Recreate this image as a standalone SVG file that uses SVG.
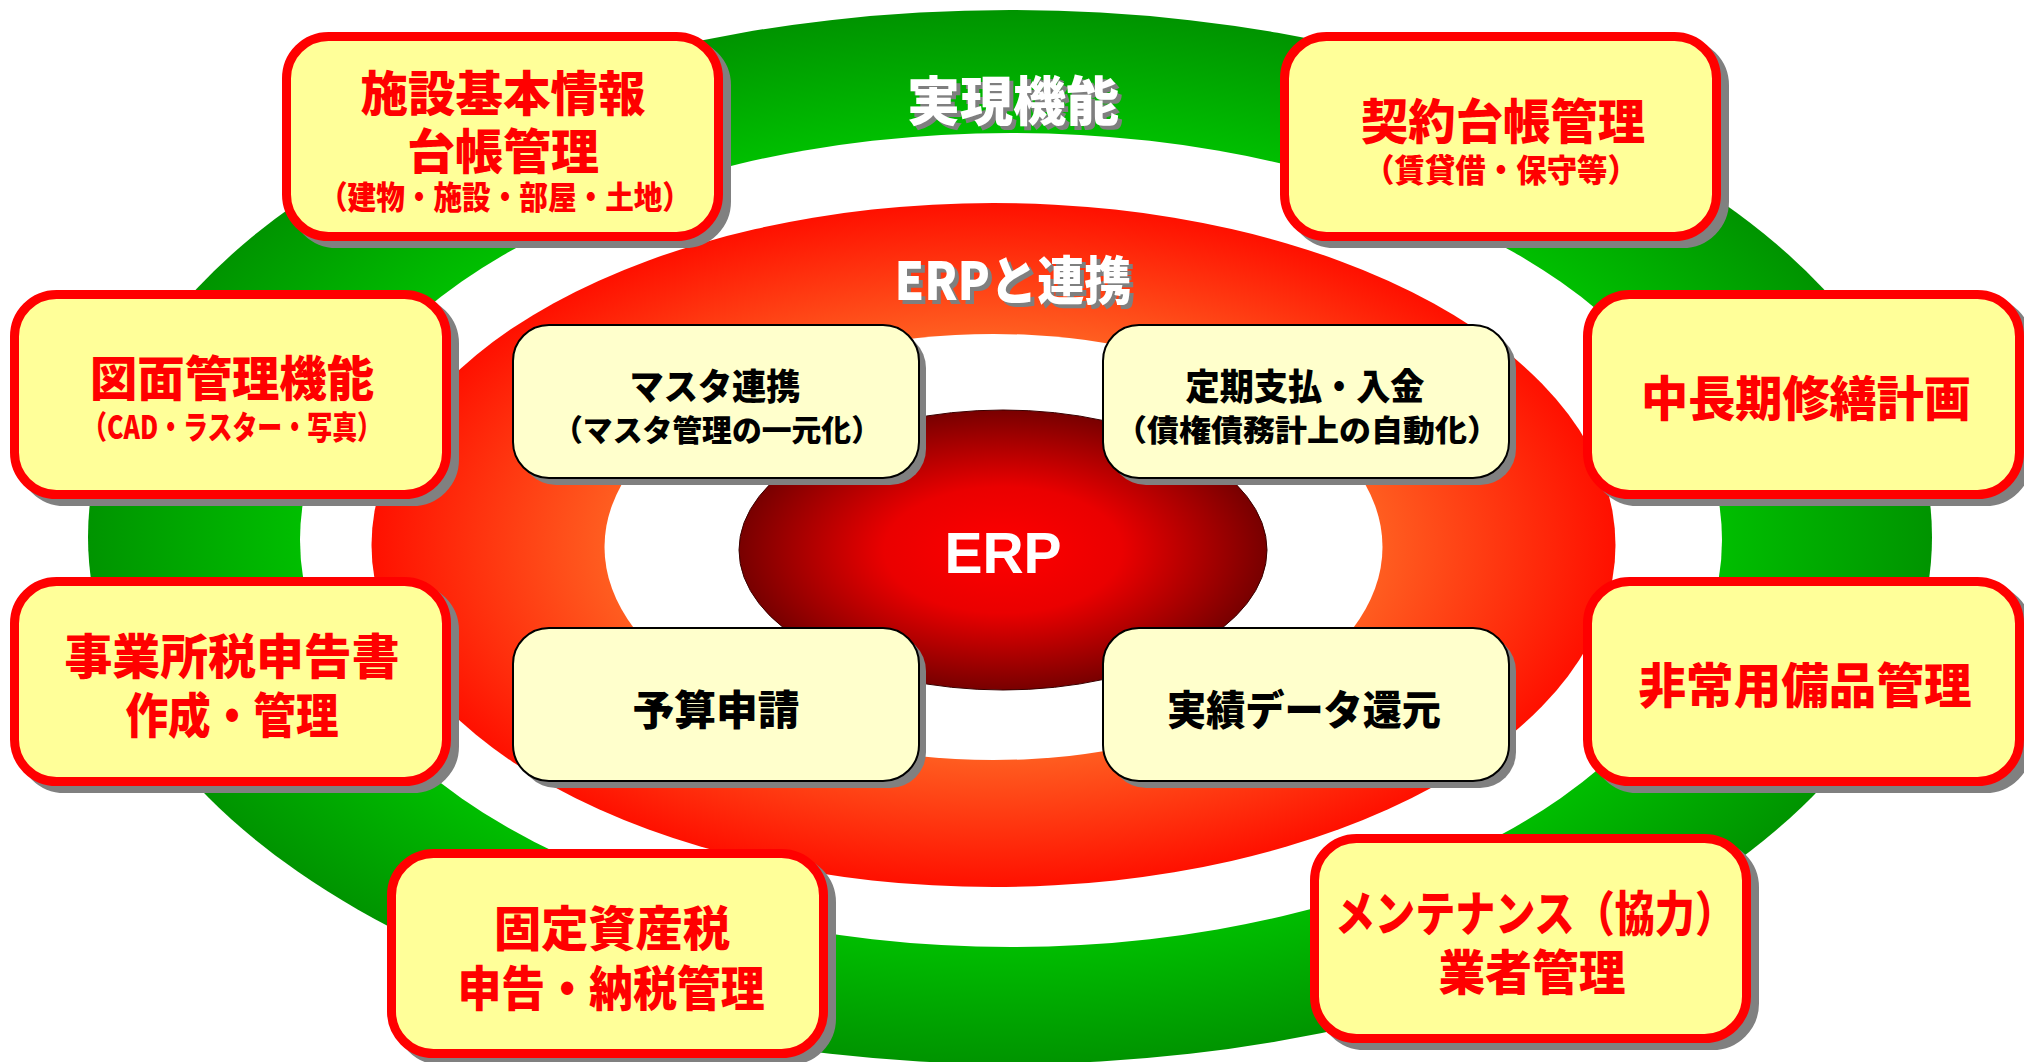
<svg xmlns="http://www.w3.org/2000/svg" width="2024" height="1062" viewBox="0 0 2024 1062">
<defs>
<radialGradient id="gGreen" cx="0.5" cy="0.5" r="0.5">
<stop offset="0.76" stop-color="#00C000"/>
<stop offset="1" stop-color="#009400"/>
</radialGradient>
<radialGradient id="gRed" cx="0.5" cy="0.5" r="0.5">
<stop offset="0.6" stop-color="#FF6222"/>
<stop offset="1" stop-color="#FF1000"/>
</radialGradient>
<radialGradient id="gCore" cx="0.5" cy="0.5" r="0.5">
<stop offset="0" stop-color="#FF0000"/>
<stop offset="0.45" stop-color="#EA0000"/>
<stop offset="1" stop-color="#780000"/>
</radialGradient>
<style>
.ob{fill:#FFFF99;stroke:#FF0000;stroke-width:9}
.os{fill:#808080;stroke:#808080;stroke-width:9}
.ib{fill:#FFFFCC;stroke:#000000;stroke-width:2}
.is{fill:#808080}
.jp{font-family:"Noto Sans CJK JP","Noto Sans CJK SC",sans-serif;font-weight:900;text-anchor:middle}
.rl{fill:#FF0000;font-size:48px}
.rs{fill:#FF0000;font-size:32px}
.bl{fill:#000000;font-size:36px}
.bs{fill:#000000;font-size:30px}
.bm{fill:#000000;font-size:41px}
.tw{fill:#FFFFFF}
.tg{fill:#7F7F7F}
</style>
</defs>
<rect width="2024" height="1062" fill="#FFFFFF"/>
<g id="rings">
<ellipse cx="1010" cy="537" rx="922" ry="527" fill="url(#gGreen)"/>
<ellipse cx="1011" cy="540" rx="711" ry="407" fill="#FFFFFF"/>
<ellipse cx="993.5" cy="545" rx="622" ry="342" fill="url(#gRed)"/>
<ellipse cx="993.5" cy="547" rx="389" ry="213" fill="#FFFFFF"/>
<ellipse cx="1003" cy="550" rx="264" ry="140" fill="url(#gCore)" stroke="#3A0000" stroke-width="1"/>
</g>
<g id="titles">
<text class="jp tg" x="1017" y="125" font-size="53">実現機能</text>
<text class="jp tw" x="1013" y="121" font-size="53">実現機能</text>
<text class="jp tg" x="1017" y="304" font-size="52" textLength="237" lengthAdjust="spacingAndGlyphs">ERPと連携</text>
<text class="jp tw" x="1013" y="300" font-size="52" textLength="237" lengthAdjust="spacingAndGlyphs">ERPと連携</text>
<text x="1003" y="573" font-family="Liberation Sans, Arial, sans-serif" font-weight="bold" font-size="57" fill="#FFFFFF" text-anchor="middle">ERP</text>
</g>
<g id="connectors"></g>
<g id="node-shisetsu">
<rect class="os" x="294.5" y="43.5" width="432" height="200" rx="42"/>
<rect class="ob" x="286.5" y="36.5" width="432" height="200" rx="42"/>
<text class="jp rl" x="503" y="111" textLength="285" lengthAdjust="spacingAndGlyphs">施設基本情報</text>
<text class="jp rl" x="503" y="169">台帳管理</text>
<text class="jp rs" x="505" y="209" textLength="372" lengthAdjust="spacingAndGlyphs">（建物・施設・部屋・土地）</text>
</g>
<g id="node-keiyaku">
<rect class="os" x="1292.5" y="43.5" width="432" height="200" rx="42"/>
<rect class="ob" x="1284.5" y="36.5" width="432" height="200" rx="42"/>
<text class="jp rl" x="1503" y="139" textLength="284" lengthAdjust="spacingAndGlyphs">契約台帳管理</text>
<text class="jp rs" x="1501" y="182" textLength="274" lengthAdjust="spacingAndGlyphs">（賃貸借・保守等）</text>
</g>
<g id="node-zumen">
<rect class="os" x="22.5" y="301.5" width="432" height="200" rx="42"/>
<rect class="ob" x="14.5" y="294.5" width="432" height="200" rx="42"/>
<text class="jp rl" x="232" y="396" textLength="284" lengthAdjust="spacingAndGlyphs">図面管理機能</text>
<text class="jp rs" x="232" y="439" textLength="300" lengthAdjust="spacingAndGlyphs">（CAD・ラスター・写真）</text>
</g>
<g id="node-jigyosho">
<rect class="os" x="22.5" y="588.5" width="432" height="200" rx="42"/>
<rect class="ob" x="14.5" y="581.5" width="432" height="200" rx="42"/>
<text class="jp rl" x="232" y="674" textLength="335" lengthAdjust="spacingAndGlyphs">事業所税申告書</text>
<text class="jp rl" x="232" y="733" textLength="213" lengthAdjust="spacingAndGlyphs">作成・管理</text>
</g>
<g id="node-kotei">
<rect class="os" x="399.5" y="860.5" width="432" height="200" rx="42"/>
<rect class="ob" x="391.5" y="853.5" width="432" height="200" rx="42"/>
<text class="jp rl" x="612" y="946" textLength="236" lengthAdjust="spacingAndGlyphs">固定資産税</text>
<text class="jp rl" x="611" y="1006" textLength="307" lengthAdjust="spacingAndGlyphs">申告・納税管理</text>
</g>
<g id="node-chouki">
<rect class="os" x="1595.5" y="301.5" width="432" height="200" rx="42"/>
<rect class="ob" x="1587.5" y="294.5" width="432" height="200" rx="42"/>
<text class="jp rl" x="1806" y="416" textLength="330" lengthAdjust="spacingAndGlyphs">中長期修繕計画</text>
</g>
<g id="node-hijou">
<rect class="os" x="1595.5" y="588.5" width="432" height="200" rx="42"/>
<rect class="ob" x="1587.5" y="581.5" width="432" height="200" rx="42"/>
<text class="jp rl" x="1805" y="703" textLength="333" lengthAdjust="spacingAndGlyphs">非常用備品管理</text>
</g>
<g id="node-maintenance">
<rect class="os" x="1322.5" y="845.5" width="432" height="200" rx="42"/>
<rect class="ob" x="1314.5" y="838.5" width="432" height="200" rx="42"/>
<text class="jp rl" x="1535" y="931" textLength="400" lengthAdjust="spacingAndGlyphs">メンテナンス（協力）</text>
<text class="jp rl" x="1532" y="990" textLength="187" lengthAdjust="spacingAndGlyphs">業者管理</text>
</g>
<g id="node-master">
<rect class="is" x="520" y="332" width="406" height="153" rx="36"/>
<rect class="ib" x="513" y="325" width="406" height="153" rx="36"/>
<text class="jp bl" x="715" y="400" textLength="171" lengthAdjust="spacingAndGlyphs">マスタ連携</text>
<text class="jp bs" x="717" y="441" textLength="328" lengthAdjust="spacingAndGlyphs">（マスタ管理の一元化）</text>
</g>
<g id="node-teiki">
<rect class="is" x="1110" y="332" width="406" height="153" rx="36"/>
<rect class="ib" x="1103" y="325" width="406" height="153" rx="36"/>
<text class="jp bl" x="1305" y="400" textLength="239" lengthAdjust="spacingAndGlyphs">定期支払・入金</text>
<text class="jp bs" x="1307" y="441" textLength="384" lengthAdjust="spacingAndGlyphs">（債権債務計上の自動化）</text>
</g>
<g id="node-yosan">
<rect class="is" x="520" y="635" width="406" height="153" rx="36"/>
<rect class="ib" x="513" y="628" width="406" height="153" rx="36"/>
<text class="jp bm" x="716" y="725" textLength="167" lengthAdjust="spacingAndGlyphs">予算申請</text>
</g>
<g id="node-jisseki">
<rect class="is" x="1110" y="635" width="406" height="153" rx="36"/>
<rect class="ib" x="1103" y="628" width="406" height="153" rx="36"/>
<text class="jp bm" x="1304" y="725" textLength="274" lengthAdjust="spacingAndGlyphs">実績データ還元</text>
</g>
</svg>
